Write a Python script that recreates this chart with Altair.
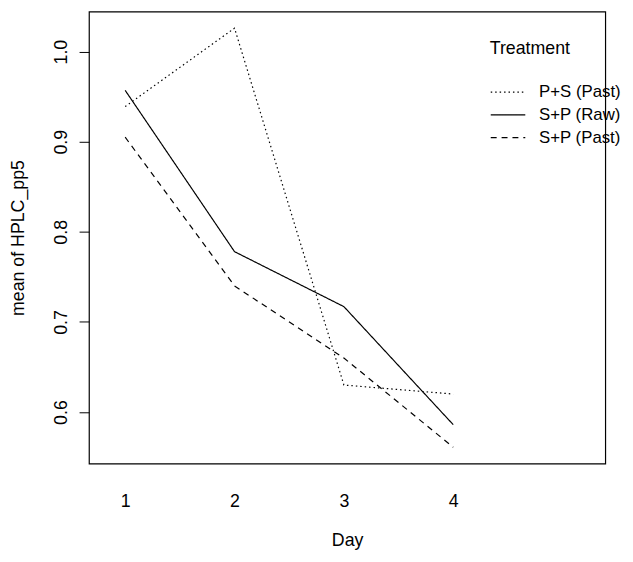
import altair as alt
import pandas as pd

days = [1, 2, 3, 4]
treatments = ["P+S (Past)", "S+P (Raw)", "S+P (Past)"]
ps_past = [0.939, 1.026, 0.630, 0.620]
sp_raw = [0.957, 0.778, 0.717, 0.586]
sp_past = [0.905, 0.740, 0.660, 0.561]
y_ticks = [0.6, 0.7, 0.8, 0.9, 1.0]

rows = []
for name, vals in zip(treatments, [ps_past, sp_raw, sp_past]):
    for d, v in zip(days, vals):
        rows.append({"Day": d, "mean": v, "Treatment": name})
df = pd.DataFrame(rows)

FONT = "Liberation Sans"
FS = 18

chart = alt.Chart(df).mark_line(color="black", strokeWidth=1.2).encode(
    x=alt.X("Day:Q",
            scale=alt.Scale(domain=[0.6687, 5.39], nice=False, zero=False),
            axis=alt.Axis(values=days, format="d", ticks=False, domain=False,
                          grid=False, labelPadding=29, labelFontSize=FS,
                          labelFont=FONT, labelColor="black",
                          title="Day", titleFont=FONT, titleFontSize=FS,
                          titleFontWeight="normal", titleColor="black",
                          titleBaseline="alphabetic", titleY=83)),
    y=alt.Y("mean:Q",
            scale=alt.Scale(domain=[0.5428, 1.0445], nice=False, zero=False),
            axis=alt.Axis(values=y_ticks, format=".1f", grid=False, domain=False,
                          ticks=True, tickSize=10, tickColor="black",
                          labelAngle=270, labelAlign="center",
                          labelBaseline="alphabetic", labelPadding=13,
                          labelFontSize=FS, labelFont=FONT, labelColor="black",
                          title="mean of HPLC_pp5", titleFont=FONT,
                          titleFontSize=FS, titleFontWeight="normal",
                          titleColor="black", titleAngle=270,
                          titleAlign="center", titleBaseline="alphabetic",
                          titleX=-66, titleY=229)),
    strokeDash=alt.StrokeDash("Treatment:N",
        scale=alt.Scale(domain=treatments, range=[[1.5, 3], [1, 0], [6, 5]]),
        sort=treatments,
        legend=alt.Legend(orient="none", legendX=406, legendY=29,
                          title="Treatment", titleFont=FONT, titleFontSize=FS,
                          titleFontWeight="normal", titleColor="black",
                          titlePadding=23.5, labelFont=FONT, labelFontSize=17,
                          labelColor="black", labelOffset=13, labelLimit=300,
                          symbolType="stroke", symbolSize=1225,
                          symbolStrokeWidth=1.2, symbolStrokeColor="black",
                          clipHeight=22.5, rowPadding=0, padding=0)),
).properties(
    width=523, height=458,
    autosize=alt.AutoSizeParams(type="none"),
    padding={"left": 82, "top": 0, "right": 20, "bottom": 87},
).configure(
    background="white"
).configure_view(stroke="black", strokeWidth=1.2)

chart.save("out.html", embed_options={"renderer": "svg", "actions": False})
